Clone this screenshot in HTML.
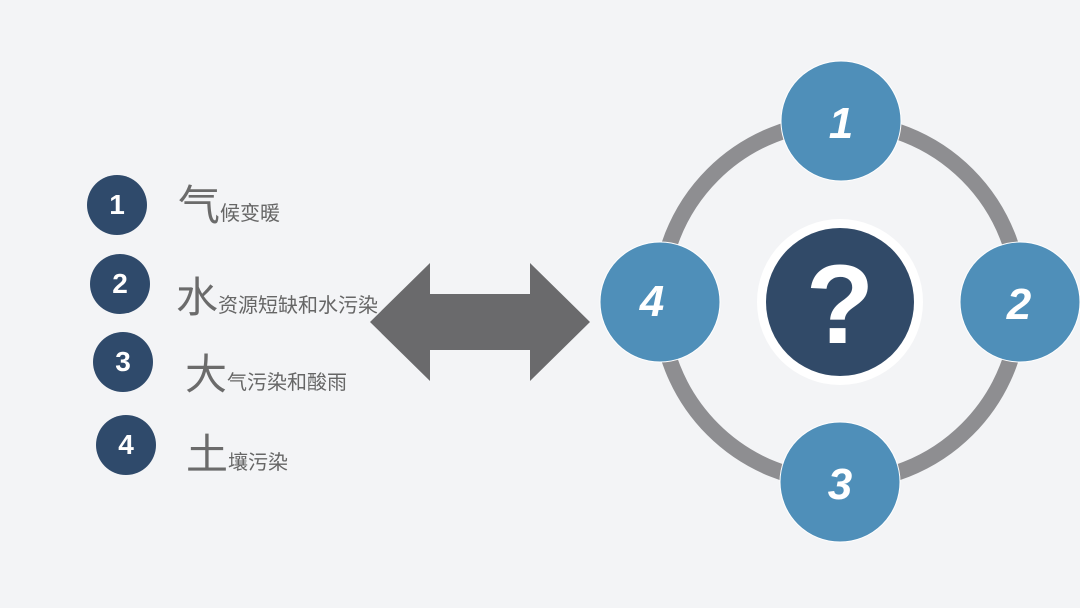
<!DOCTYPE html>
<html><head><meta charset="utf-8"><style>
body{margin:0;width:1080px;height:608px;background:#f3f4f6;overflow:hidden;position:relative;font-family:"Liberation Sans","Noto Sans CJK SC",sans-serif}
.n{position:absolute;width:60px;height:60px;border-radius:50%;background:#2f4a6b;color:#fff;font-weight:bold;font-size:28px;text-align:center;line-height:60px}
.t{position:absolute;color:#666;font-size:20px;white-space:nowrap}
.t b{font-weight:normal;font-size:42px;color:#6b6b6b}
</style></head><body>
<div class="n" style="left:87px;top:175px">1</div>
<div class="n" style="left:90px;top:254px">2</div>
<div class="n" style="left:93px;top:332px">3</div>
<div class="n" style="left:96px;top:415px">4</div>
<div class="t" style="left:178px;top:172px"><b>气</b>候变暖</div>
<div class="t" style="left:176px;top:264px"><b>水</b>资源短缺和水污染</div>
<div class="t" style="left:185px;top:341px"><b>大</b>气污染和酸雨</div>
<div class="t" style="left:186px;top:421px"><b>土</b>壤污染</div>
<svg width="1080" height="608" style="position:absolute;left:0;top:0">
<polygon points="370,322 430,263 430,294 530,294 530,263 590,322 530,381 530,350 430,350 430,381" fill="#6a6a6c"/>
<circle cx="840" cy="302" r="180" fill="none" stroke="#8e8e91" stroke-width="16"/>
<circle cx="840" cy="302" r="83" fill="#fff"/>
<circle cx="840" cy="302" r="74" fill="#314a68"/>
<text x="840" y="343" text-anchor="middle" font-family="Liberation Sans" font-weight="bold" font-size="112" fill="#fff">?</text>
<g fill="#4f8fb9" stroke="#fff" stroke-width="1">
<circle cx="841" cy="121" r="60"/><circle cx="1020" cy="302" r="60"/><circle cx="840" cy="482" r="60"/><circle cx="660" cy="302" r="60"/>
</g>
<g fill="#fff" font-family="Liberation Sans" font-weight="bold" font-style="italic" font-size="44" text-anchor="middle">
<text x="841" y="138">1</text><text x="1019" y="319">2</text><text x="840" y="499">3</text><text x="652" y="316">4</text>
</g>
</svg>
</body></html>
